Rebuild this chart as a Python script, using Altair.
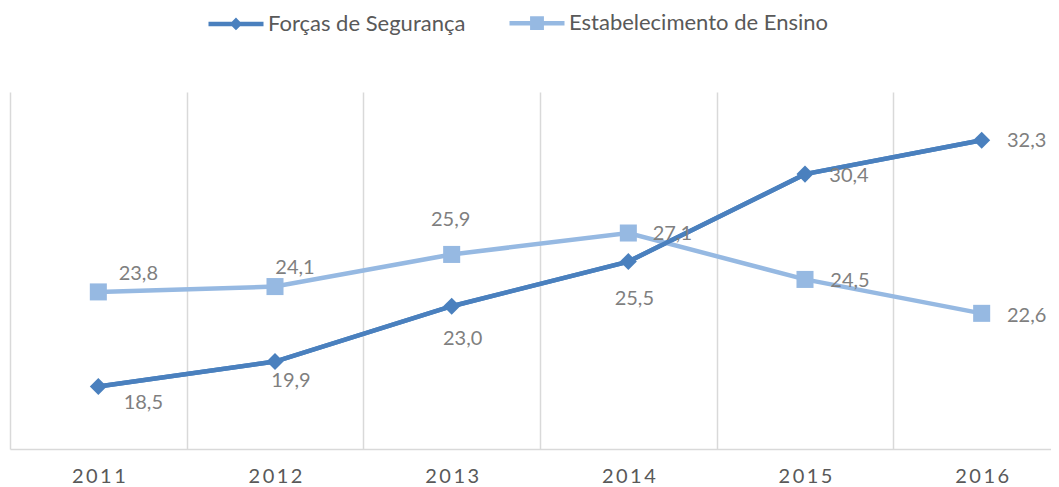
import altair as alt
import pandas as pd

# ---- data ----
years = ["2011", "2012", "2013", "2014", "2015", "2016"]
series_names = ["Forças de Segurança", "Estabelecimento de Ensino"]
forcas = [18.5, 19.9, 23.0, 25.5, 30.4, 32.3]
ensino = [23.8, 24.1, 25.9, 27.1, 24.5, 22.6]

# ---- label offsets (px) relative to each point ----
forcas_dx = [45, 16, 11, 6, 44, 45]
forcas_dy = [16, 19, 33, 37, 2, 1]
ensino_dx = [40, 20, -1, 44, 45, 45]
ensino_dy = [-18, -19, -34, 1, 2, 3]

colors = ["#4a80be", "#96b9e2"]
label_color = "#7f7f7f"
axis_color = "#595959"
grid_color = "#d9d9d9"

rows = []
for s, vals in zip(series_names, [forcas, ensino]):
    for y, v in zip(years, vals):
        rows.append({"ano": y, "serie": s, "valor": v,
                     "rotulo": f"{v:.1f}".replace(".", ",")})
df = pd.DataFrame(rows)

diamond_path = "M-1,0H1M0,-0.115L0.115,0L0,0.115L-0.115,0Z"
square_path = "M-1,0H1M-0.17,-0.17H0.17V0.17H-0.17Z"
sym_expr = ("datum.value === '" + series_names[0] + "' ? '" + diamond_path
            + "' : '" + square_path + "'")

x_enc = alt.X(
    "ano:N",
    scale=alt.Scale(type="band", domain=years, range=[0, 1060],
                    paddingInner=0, paddingOuter=0),
    axis=alt.Axis(title=None, grid=True, tickBand="extent", ticks=False,
                  domainColor=grid_color, domainWidth=1.5,
                  gridColor=grid_color, gridWidth=1.5,
                  labelFont="Lato", labelFontSize=20, labelColor=axis_color,
                  labelPadding=17, labelAngle=0,
                  labelExpr="join(split(datum.label, ''), '\u2009')"),
)
y_enc = alt.Y("valor:Q", scale=alt.Scale(domain=[15, 35]), axis=None)

base = alt.Chart(df).encode(x=x_enc, y=y_enc)

lines = base.mark_line(strokeWidth=4.5).encode(
    color=alt.Color(
        "serie:N",
        scale=alt.Scale(domain=series_names, range=colors),
        legend=alt.Legend(
            title=None, orient="none", legendX=196, legendY=-99,
            direction="horizontal",
            symbolType=alt.ExprRef(expr=sym_expr),
            symbolFillColor=alt.ExprRef(expr="scale('color', datum.value)"),
            symbolStrokeWidth=4.5, symbolSize=3025,
            labelFont="Lato", labelFontSize=22, labelColor=axis_color,
            labelOffset=2, columnPadding=34, labelLimit=500,
        ),
    )
)

dark_line = base.mark_line(strokeWidth=4.5, color=colors[0]).transform_filter(
    alt.datum.serie == series_names[0])

pts_dark = base.mark_point(shape="diamond", filled=True, size=290, opacity=1,
                           color=colors[0]).transform_filter(
    alt.datum.serie == series_names[0])
pts_light = base.mark_point(shape="square", filled=True, size=290, opacity=1,
                            color=colors[1]).transform_filter(
    alt.datum.serie == series_names[1])

texts = []
for s, dxs, dys in zip(series_names, [forcas_dx, ensino_dx], [forcas_dy, ensino_dy]):
    for yr, dx, dy in zip(years, dxs, dys):
        texts.append(
            base.mark_text(dx=dx, dy=dy, align="center", baseline="middle",
                           font="Lato", fontSize=20, color=label_color)
            .encode(text="rotulo:N")
            .transform_filter((alt.datum.serie == s) & (alt.datum.ano == yr))
        )

chart = alt.layer(lines, pts_light, dark_line, pts_dark, *texts).properties(
    width=1041, height=357,
    autosize=alt.AutoSizeParams(type="none"),
    padding={"left": 2, "top": 84, "right": 0, "bottom": 36},
).configure_view(stroke=None)

chart.save("out.html", embed_options={"renderer": "svg", "actions": False})
